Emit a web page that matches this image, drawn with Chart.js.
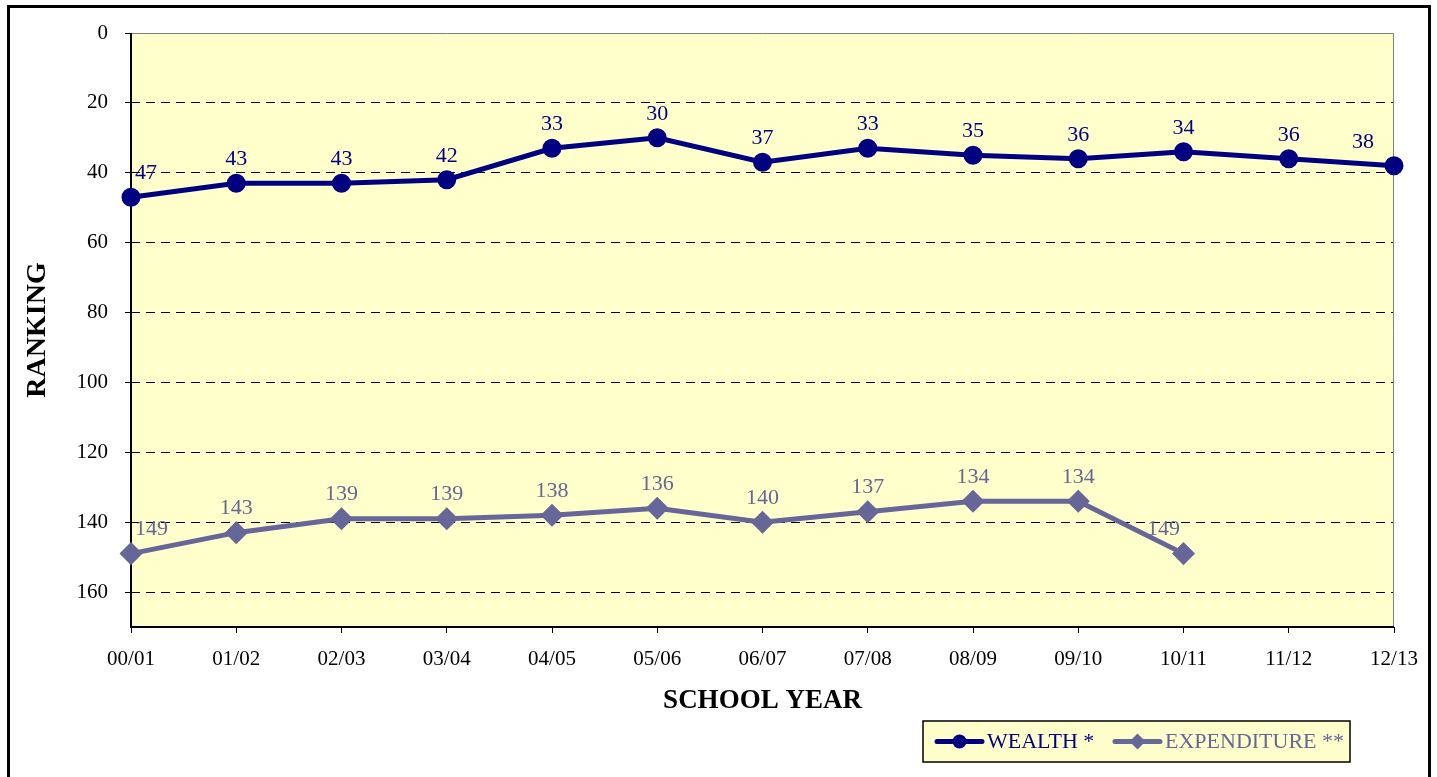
<!DOCTYPE html>
<html>
<head>
<meta charset="utf-8">
<script src="https://cdn.jsdelivr.net/npm/chart.js@4.4.1/dist/chart.umd.min.js"></script>
<style>
  html, body { margin: 0; padding: 0; background: #fff; overflow: hidden; }
  #frame { position: absolute; left: 7px; top: 5px; width: 1418px; height: 800px; border: 3px solid #000; }
  #wrap { position: absolute; left: 0; top: 0; width: 1437px; height: 777px; }
</style>
</head>
<body>
<div id="frame"></div>
<div id="wrap"><canvas id="chart"></canvas></div>
<script>
const years = ['00/01', '01/02', '02/03', '03/04', '04/05', '05/06', '06/07', '07/08', '08/09', '09/10', '10/11', '11/12', '12/13'];
const wealth = [47, 43, 43, 42, 33, 30, 37, 33, 35, 36, 34, 36, 38];
const expenditure = [149, 143, 139, 139, 138, 136, 140, 137, 134, 134, 149, null, null];
const rankMin = 0;
const rankMax = 170;
const rankStep = 20;

const FONT = '"Liberation Serif", "Times New Roman", serif';
const PLOT_BG = '#FFFFCC';

// fond jaune + bord gris haut/droite
const plotArea = {
  id: 'plotArea',
  beforeDraw(chart) {
    const { ctx, chartArea: a } = chart;
    ctx.save();
    ctx.fillStyle = PLOT_BG;
    ctx.fillRect(a.left, a.top, a.right - a.left, a.bottom - a.top);
    ctx.restore();
  },
  beforeDatasetsDraw(chart) {
    const { ctx, chartArea: a } = chart;
    ctx.save();
    ctx.strokeStyle = '#808080';
    ctx.lineWidth = 1;
    ctx.beginPath();
    ctx.moveTo(a.left, a.top + 0.5);
    ctx.lineTo(a.right - 0.5, a.top + 0.5);
    ctx.lineTo(a.right - 0.5, a.bottom);
    ctx.stroke();
    // axes gauche et bas en trait plein
    ctx.strokeStyle = '#000';
    ctx.lineWidth = 2;
    ctx.beginPath();
    ctx.moveTo(a.left, a.top);
    ctx.lineTo(a.left, a.bottom);
    ctx.lineTo(a.right, a.bottom);
    ctx.stroke();
    ctx.restore();
  }
};

// etiquettes de valeurs au-dessus des points
const pointLabels = {
  id: 'pointLabels',
  afterDatasetsDraw(chart) {
    const { ctx, chartArea: a } = chart;
    ctx.save();
    ctx.font = '22px ' + FONT;
    ctx.textAlign = 'center';
    ctx.textBaseline = 'middle';
    chart.data.datasets.forEach((ds, i) => {
      const meta = chart.getDatasetMeta(i);
      meta.data.forEach((pt, j) => {
        const v = ds.data[j];
        if (v == null) return;
        const text = String(v);
        const w = ctx.measureText(text).width;
        let x = pt.x + ((ds.labelNudge || {})[j] || 0);
        x = Math.max(x, a.left + 4 + w / 2);
        x = Math.min(x, a.right - 20 - w / 2);
        ctx.fillStyle = ds.borderColor;
        ctx.fillText(text, x, pt.y - 24);
      });
    });
    ctx.restore();
  }
};

// legende dans un cadre jaune
const boxLegend = {
  id: 'boxLegend',
  afterDraw(chart) {
    const ctx = chart.ctx;
    const box = { x: 923, y: 721, w: 427, h: 41 };
    const items = [{ x: 937 }, { x: 1115 }];
    ctx.save();
    ctx.fillStyle = PLOT_BG;
    ctx.fillRect(box.x, box.y, box.w, box.h);
    ctx.strokeStyle = '#000';
    ctx.lineWidth = 1.5;
    ctx.strokeRect(box.x, box.y, box.w, box.h);
    const cy = box.y + box.h / 2;
    chart.data.datasets.forEach((ds, i) => {
      const x0 = items[i].x;
      ctx.strokeStyle = ds.borderColor;
      ctx.fillStyle = ds.borderColor;
      ctx.lineWidth = ds.borderWidth;
      ctx.lineCap = 'round';
      ctx.beginPath();
      ctx.moveTo(x0, cy);
      ctx.lineTo(x0 + 45, cy);
      ctx.stroke();
      const mx = x0 + 22.5;
      ctx.beginPath();
      if (ds.pointStyle === 'circle') {
        ctx.arc(mx, cy, ds.pointRadius, 0, Math.PI * 2);
      } else {
        const r = ds.pointRadius;
        ctx.moveTo(mx, cy - r);
        ctx.lineTo(mx + r, cy);
        ctx.lineTo(mx, cy + r);
        ctx.lineTo(mx - r, cy);
        ctx.closePath();
      }
      ctx.fill();
      ctx.font = '22px ' + FONT;
      ctx.textAlign = 'left';
      ctx.textBaseline = 'middle';
      ctx.fillText(ds.label, x0 + 50, cy + 1);
    });
    ctx.restore();
  }
};

new Chart(document.getElementById('chart'), {
  type: 'line',
  data: {
    labels: years,
    datasets: [
      {
        label: 'WEALTH *',
        data: wealth,
        borderColor: '#000080',
        backgroundColor: '#000080',
        borderWidth: 5,
        pointStyle: 'circle',
        pointRadius: 7,
        pointHoverRadius: 7,
        tension: 0,
        clip: false
      },
      {
        label: 'EXPENDITURE **',
        data: expenditure,
        borderColor: '#666699',
        backgroundColor: '#666699',
        borderWidth: 5,
        pointStyle: 'rectRot',
        pointRadius: 8,
        pointHoverRadius: 8,
        tension: 0,
        clip: false,
        labelNudge: { 10: -20 }
      }
    ]
  },
  options: {
    responsive: true,
    maintainAspectRatio: false,
    animation: false,
    layout: { padding: { top: 33, right: 43, bottom: 0, left: 0 } },
    plugins: {
      legend: { display: false },
      tooltip: { enabled: false }
    },
    scales: {
      x: {
        type: 'category',
        offset: false,
        afterFit(scale) { scale.height = 150; },
        grid: {
          display: true,
          drawOnChartArea: false,
          drawTicks: true,
          tickLength: 6,
          color: '#000',
          offset: false
        },
        border: { display: false },
        ticks: {
          color: '#000',
          font: { family: FONT, size: 21 },
          padding: 14,
          maxRotation: 0,
          autoSkip: false
        },
        title: {
          display: true,
          text: 'SCHOOL YEAR',
          color: '#000',
          font: { family: FONT, size: 27, weight: 'bold' },
          padding: { top: 0, bottom: 60 }
        }
      },
      y: {
        reverse: true,
        min: rankMin,
        max: rankMax,
        afterFit(scale) { scale.width = 131; },
        grid: {
          color: (ctx) => (ctx.tick && (ctx.tick.value === rankMin || ctx.tick.value === rankMax)) ? 'rgba(0,0,0,0)' : '#000',
          tickColor: (ctx) => (ctx.tick && ctx.tick.value === rankMax) ? 'rgba(0,0,0,0)' : '#000',
          tickBorderDash: [],
          tickLength: 6,
          lineWidth: 1
        },
        border: { display: false, dash: [9, 6] },
        ticks: {
          stepSize: rankStep,
          color: '#000',
          font: { family: FONT, size: 21 },
          padding: 17,
          callback: (v) => (v % rankStep === 0 ? v : '')
        },
        title: {
          display: true,
          text: 'RANKING',
          color: '#000',
          font: { family: FONT, size: 28, weight: 'bold' },
          padding: { top: 21, bottom: 0 }
        }
      }
    }
  },
  plugins: [plotArea, pointLabels, boxLegend]
});
</script>
</body>
</html>
